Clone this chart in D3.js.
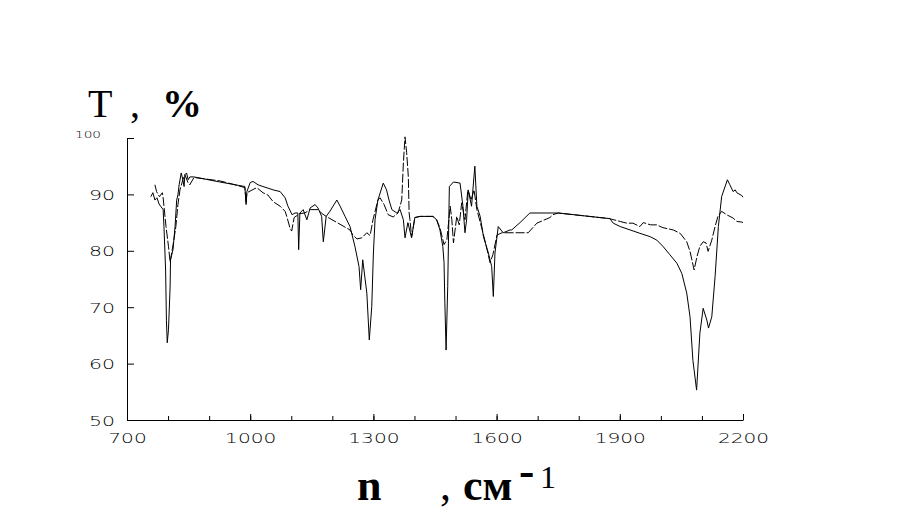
<!DOCTYPE html>
<html>
<head>
<meta charset="utf-8">
<script src="https://cdn.jsdelivr.net/npm/d3@7"></script>
<style>
  body { margin: 0; background: #fff; }
  svg { display: block; }
  .tick text { font-family: 'DejaVu Sans', sans-serif; font-weight: 200; fill: #000; }
  .title { font-family: 'Liberation Serif', 'Times New Roman', serif; fill: #000; }
</style>
</head>
<body>
<svg id="chart" width="922" height="517"></svg>
<script>
// wavenumber (cm-1), transmittance (%) -- solid trace
const solidSpectrum = [
  [758, 89.6], [763, 90.3], [768, 89.0], [773, 89.4], [778, 88.3], [783, 87.8],
  [788, 87.3], [790, 84.3], [794, 76.6], [796, 67.7], [798, 63.7], [801, 66.0],
  [805, 73.6], [806, 78.4], [812, 80.2], [817, 84.3], [821, 89.0], [824, 89.9],
  [827, 91.7], [832, 93.8], [836, 92.6], [839, 91.4], [841, 93.5], [845, 93.8],
  [849, 92.6], [853, 93.1], [863, 93.1], [926, 92.2], [987, 91.4], [990, 88.2],
  [992, 90.5], [1000, 92.1], [1007, 92.3], [1019, 91.7], [1031, 91.4], [1056, 90.8],
  [1073, 90.5], [1085, 89.4], [1092, 87.9], [1102, 86.4], [1109, 86.7], [1116, 86.7],
  [1118, 80.2], [1121, 86.7], [1129, 87.3], [1138, 85.5], [1146, 87.6], [1158, 88.2],
  [1165, 87.6], [1174, 86.1], [1178, 81.6], [1185, 86.1], [1194, 87.0], [1211, 89.0],
  [1219, 87.9], [1231, 86.1], [1243, 84.3], [1255, 80.8], [1265, 77.2], [1269, 73.1],
  [1274, 78.4], [1284, 72.5], [1290, 64.2], [1296, 70.1], [1300, 79.6], [1304, 85.5],
  [1311, 89.0], [1324, 92.0], [1332, 90.8], [1338, 89.0], [1345, 87.3], [1357, 86.7],
  [1365, 87.3], [1373, 85.5], [1377, 82.3], [1384, 85.0], [1393, 82.3], [1401, 85.9],
  [1414, 86.1], [1445, 86.1], [1454, 85.5], [1462, 83.7], [1469, 80.8], [1472, 77.9],
  [1474, 70.8], [1477, 62.4], [1481, 73.7], [1485, 91.4], [1495, 92.2], [1511, 92.0],
  [1518, 87.9], [1523, 83.2], [1527, 85.5], [1531, 90.8], [1539, 87.9], [1547, 95.0],
  [1552, 87.9], [1560, 86.1], [1568, 82.5], [1580, 79.6], [1588, 77.2], [1592, 71.9],
  [1596, 79.6], [1604, 84.3], [1616, 83.2], [1633, 83.7], [1637, 83.7], [1657, 85.0],
  [1681, 86.7], [1713, 86.7], [1750, 86.7], [1876, 85.7], [1884, 84.9], [1901, 84.3],
  [1925, 83.7], [1949, 83.1], [1974, 82.5], [1990, 81.9], [2005, 80.8], [2022, 79.3],
  [2039, 77.8], [2051, 76.0], [2063, 72.5], [2071, 68.3], [2078, 60.6], [2087, 55.3],
  [2095, 65.4], [2103, 69.8], [2112, 67.7], [2116, 66.3], [2124, 68.3], [2132, 75.4],
  [2140, 84.3], [2148, 89.6], [2162, 92.6], [2168, 91.7], [2176, 90.5], [2181, 90.8],
  [2185, 90.3], [2197, 89.8], [2200, 89.5]
]

// dashed trace
const dashedSpectrum = [
  [768, 91.7], [772, 90.5], [779, 89.6], [786, 90.3], [788, 89.4], [795, 84.3],
  [801, 80.8], [805, 78.0], [813, 81.4], [819, 84.3], [824, 88.2], [829, 90.8],
  [836, 92.6], [841, 93.5], [849, 92.0], [853, 91.7], [863, 93.0], [926, 92.4],
  [958, 91.8], [987, 91.2], [990, 88.5], [992, 90.3], [1016, 91.2], [1031, 90.3],
  [1043, 89.9], [1056, 88.7], [1073, 87.9], [1085, 87.0], [1089, 86.1], [1097, 84.0],
  [1101, 83.5], [1107, 85.9], [1121, 86.6], [1133, 86.7], [1146, 87.3], [1165, 87.3],
  [1175, 86.6], [1185, 86.1], [1243, 83.7], [1250, 82.8], [1260, 82.1], [1272, 82.3],
  [1284, 83.2], [1292, 82.7], [1299, 85.5], [1311, 89.0], [1316, 89.4], [1326, 88.2],
  [1336, 86.4], [1348, 86.0], [1360, 86.7], [1369, 89.0], [1373, 95.6], [1377, 100.2],
  [1381, 97.4], [1385, 93.2], [1387, 86.7], [1389, 85.5], [1393, 82.5], [1401, 85.9],
  [1414, 86.1], [1445, 86.1], [1454, 85.5], [1462, 84.1], [1472, 81.1], [1479, 82.0],
  [1487, 87.9], [1491, 85.5], [1495, 81.4], [1503, 86.1], [1509, 84.6], [1515, 88.5],
  [1523, 85.5], [1530, 90.8], [1538, 89.0], [1545, 90.8], [1552, 87.3], [1565, 83.7],
  [1574, 81.1], [1584, 77.9], [1591, 79.3], [1601, 82.8], [1613, 83.2], [1640, 83.2],
  [1677, 83.2], [1698, 84.9], [1730, 85.9], [1737, 86.4], [1750, 86.7], [1876, 85.7],
  [1880, 85.6], [1901, 85.2], [1917, 84.9], [1932, 84.9], [1949, 84.3], [1957, 85.0],
  [1975, 84.6], [1990, 84.6], [2005, 84.1], [2030, 83.7], [2047, 83.1], [2063, 81.6],
  [2071, 79.9], [2081, 76.6], [2088, 79.0], [2095, 80.8], [2103, 81.6], [2110, 81.4],
  [2115, 79.9], [2124, 81.9], [2132, 84.3], [2139, 86.1], [2148, 87.0], [2160, 86.4],
  [2176, 85.8], [2185, 85.2], [2197, 85.1], [2200, 85.0]
]

const xMinorTicks = [700, 800, 900, 1000, 1100, 1200, 1300, 1400, 1500, 1600, 1700, 1800, 1900, 2000, 2100, 2200]
const xLabelTicks = [700, 1000, 1300, 1600, 1900, 2200]
const yTicks = [50, 60, 70, 80, 90, 100]

const margins = { left: 127, top: 138, right: 179, bottom: 97 }
const width = 922 - margins.left - margins.right
const height = 517 - margins.top - margins.bottom

const svg = d3.select('#chart')

const x = d3.scaleLinear().domain([700, 2200]).range([0, width])
const y = d3.scaleLinear().domain([50, 100]).range([height, 0])

const wrapper = svg.append('g')
  .attr('transform', `translate(${margins.left}, ${margins.top})`)

// minor ticks along the bottom (inside the plot)
wrapper.append('g')
  .attr('transform', `translate(0, ${height})`)
  .call(d3.axisBottom(x).tickValues(xMinorTicks).tickSizeInner(-4).tickSizeOuter(0).tickFormat(''))
  .call(g => g.select('.domain').remove())

// labelled ticks
const xAxis = wrapper.append('g')
  .attr('transform', `translate(0, ${height})`)
  .call(d3.axisBottom(x).tickValues(xLabelTicks).tickSizeInner(-6).tickSizeOuter(0)
    .tickPadding(13).tickFormat(d3.format('d')))

xAxis.selectAll('.tick text')
  .attr('font-size', 14)
  .attr('textLength', d => String(d).length * 12.8)
  .attr('lengthAdjust', 'spacingAndGlyphs')

const yAxis = wrapper.append('g')
  .call(d3.axisLeft(y).tickValues(yTicks).tickSizeInner(-7).tickSizeOuter(0).tickPadding(12))

yAxis.selectAll('.tick text')
  .attr('font-size', d => d === 100 ? 8 : 14)
  .attr('textLength', 26)
  .attr('lengthAdjust', 'spacingAndGlyphs')
  .attr('dx', d => d === 100 ? -14 : 0)
  .attr('dy', d => d === 100 ? '-0.05em' : '0.36em')

svg.selectAll('.domain, .tick line').attr('stroke', '#000')

const line = d3.line()
  .x(d => x(d[0]))
  .y(d => y(d[1]))

wrapper.append('path')
  .datum(solidSpectrum)
  .attr('d', line)
  .attr('fill', 'none')
  .attr('stroke', '#000')
  .attr('stroke-width', 1)

wrapper.append('path')
  .datum(dashedSpectrum)
  .attr('d', line)
  .attr('fill', 'none')
  .attr('stroke', '#000')
  .attr('stroke-width', 1)
  .attr('stroke-dasharray', '9,2')

// axis titles
svg.append('text').attr('class', 'title')
  .attr('x', 88).attr('y', 117).attr('font-size', 40).text('T')
svg.append('text').attr('class', 'title')
  .attr('x', 130).attr('y', 117).attr('font-size', 40).text(',')
svg.append('text').attr('class', 'title')
  .attr('x', 162).attr('y', 117).attr('font-size', 40).attr('font-weight', 'bold').text('%')

svg.append('text').attr('class', 'title')
  .attr('x', 357).attr('y', 500).attr('font-size', 44).attr('font-weight', 'bold').text('n')
svg.append('text').attr('class', 'title')
  .attr('x', 440).attr('y', 500).attr('font-size', 44).text(',')
svg.append('text').attr('class', 'title')
  .attr('x', 463).attr('y', 500).attr('font-size', 44).attr('font-weight', 'bold').text('см')
svg.append('text').attr('class', 'title')
  .attr('x', 519).attr('y', 486).attr('font-size', 46).attr('font-weight', 'bold').text('-')
svg.append('text').attr('class', 'title')
  .attr('x', 540).attr('y', 488).attr('font-size', 32).text('1')
</script>
</body>
</html>
